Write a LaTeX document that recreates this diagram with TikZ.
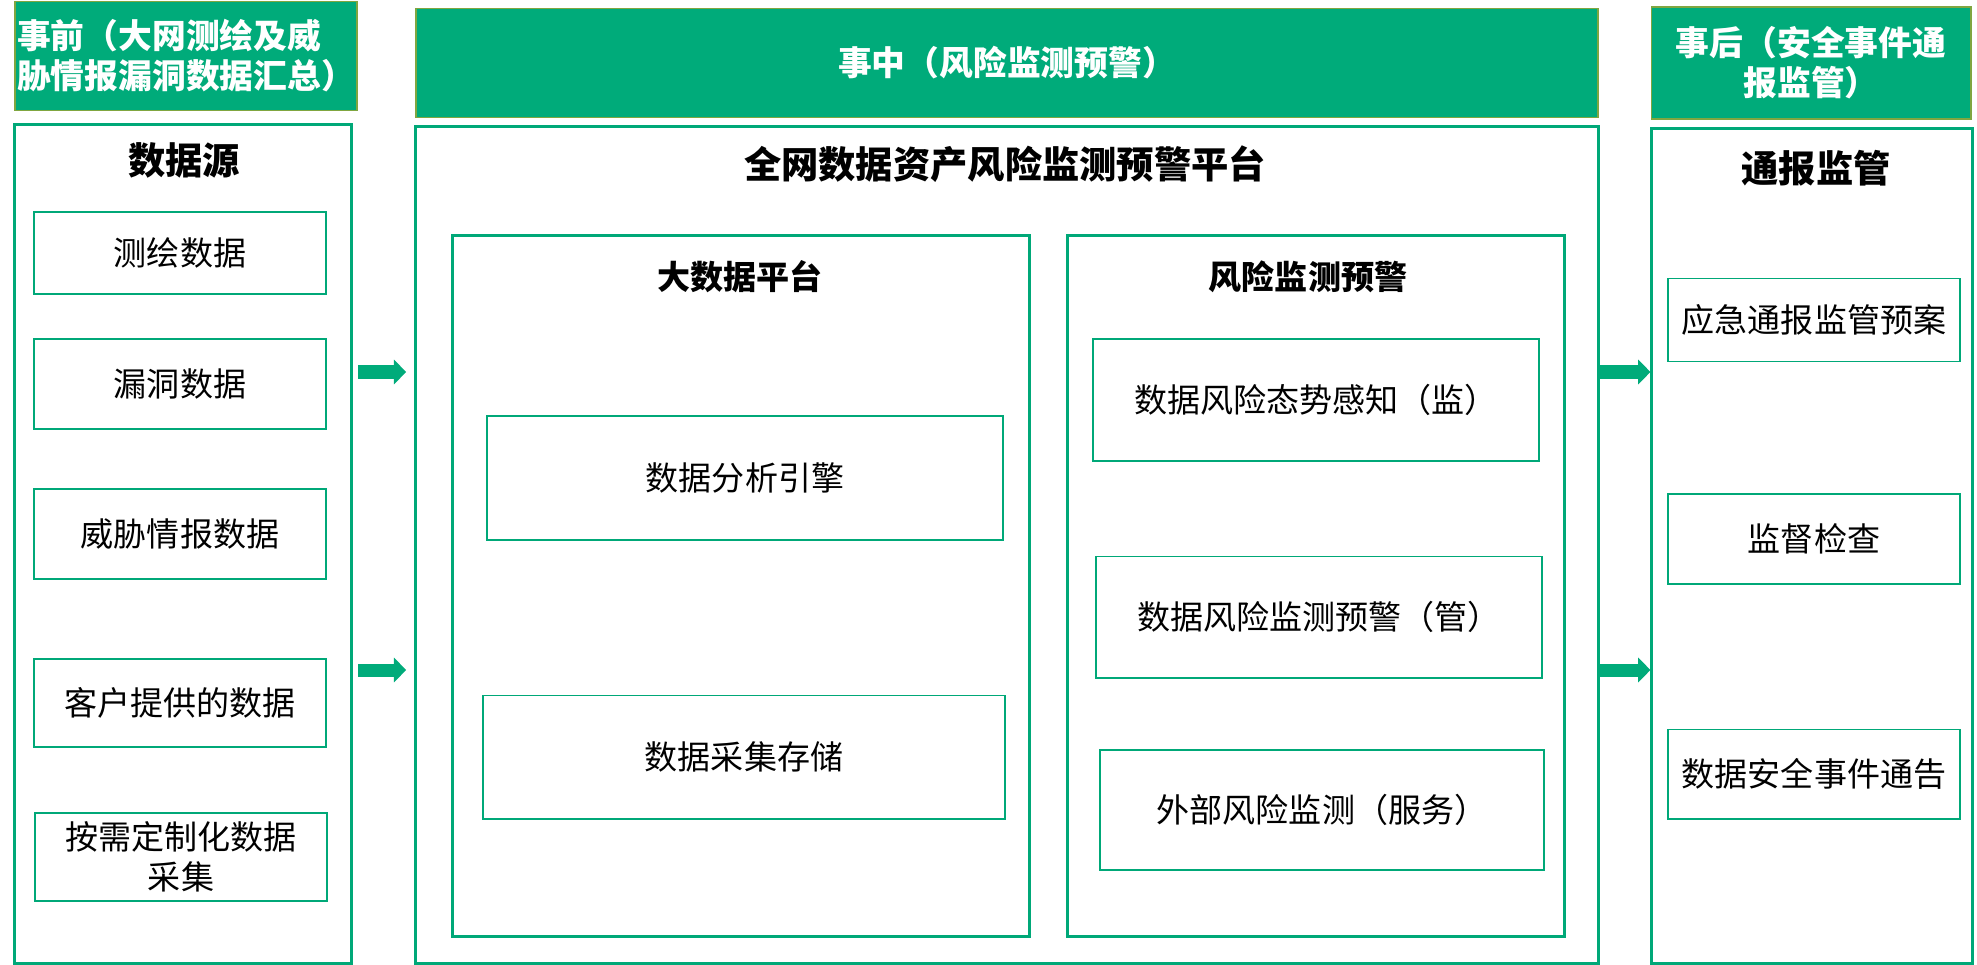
\documentclass[tikz,border=0pt]{standalone}
\usepackage{fontspec}
\setmainfont{Noto Sans CJK SC}
\usetikzlibrary{arrows.meta, positioning}

\definecolor{bargreen}{RGB}{0,171,122}
\definecolor{linegreen}{RGB}{0,168,120}
\definecolor{barolive}{RGB}{128,166,64}

\tikzset{
  phasebar/.style={draw=barolive, line width=0.5pt, fill=bargreen, text=white,
    font=\fontsize{9.6}{11.4}\selectfont\bfseries, inner sep=0pt},
  stagebox/.style={draw=linegreen, line width=0.85pt, inner sep=0pt},
  itembox/.style={draw=linegreen, line width=0.55pt, inner sep=0pt,
    font=\fontsize{9.4}{11.4}\selectfont, align=center},
  headtext/.style={font=\fontsize{10.6}{12}\selectfont\bfseries},
  subtext/.style={font=\fontsize{9.4}{11}\selectfont\bfseries},
  flowarrow/.style={draw=bargreen, line width=3.7pt,
    -{Triangle[length=3.5pt, width=7.1pt, line width=0pt]}},
}

\begin{document}
\begin{tikzpicture}[x=0.01cm, y=-0.01cm]
    \useasboundingbox (0,0) rectangle (1977,964);

    % phase bars
    \node [phasebar, minimum width=3.42cm, minimum height=1.09cm, align=left] (pre) at (186,56)
        {事前（大网测绘及威\\胁情报漏洞数据汇总）};
    \node [phasebar, minimum width=11.81cm, minimum height=1.09cm] (mid) at (1007,63)
        {事中（风险监测预警）};
    \node [phasebar, minimum width=3.19cm, minimum height=1.12cm, align=center] (post) at (1811,63)
        {事后（安全事件通\\报监管）};

    % data sources
    \node [stagebox, minimum width=3.37cm, minimum height=8.39cm] (srcbox) at (183,544) {};
    \node [headtext] (srctitle) at (184,160) {数据源};
    \node [itembox, minimum width=2.91cm, minimum height=0.82cm] (survey) at (180,253) {测绘数据};
    \node [itembox, minimum width=2.91cm, minimum height=0.90cm] (vuln)   at (180,384) {漏洞数据};
    \node [itembox, minimum width=2.91cm, minimum height=0.90cm] (threat) at (180,534) {威胁情报数据};
    \node [itembox, minimum width=2.91cm, minimum height=0.88cm] (client) at (180,703) {客户提供的数据};
    \node [itembox, minimum width=2.91cm, minimum height=0.88cm] (custom) at (181,857) {按需定制化数据\\采集};

    % platform
    \node [stagebox, minimum width=11.82cm, minimum height=8.36cm] (platform) at (1007,545) {};
    \node [headtext] (plattitle) at (1005,164) {全网数据资产风险监测预警平台};

    \node [stagebox, minimum width=5.76cm, minimum height=7.00cm] (bigdata) at (741,586) {};
    \node [subtext] (bigtitle) at (740,277) {大数据平台};
    \node [itembox, minimum width=5.15cm, minimum height=1.24cm] (engine) at (745,478) {数据分析引擎};
    \node [itembox, minimum width=5.21cm, minimum height=1.23cm] (store)  at (744,757) {数据采集存储};

    \node [stagebox, minimum width=4.96cm, minimum height=7.00cm] (risk) at (1316,586) {};
    \node [subtext] (risktitle) at (1308,277) {风险监测预警};
    \node [itembox, minimum width=4.45cm, minimum height=1.21cm] (sense)  at (1316,400) {数据风险态势感知（监）};
    \node [itembox, minimum width=4.45cm, minimum height=1.21cm] (warn)   at (1319,617) {数据风险监测预警（管）};
    \node [itembox, minimum width=4.43cm, minimum height=1.20cm] (extern) at (1322,810) {外部风险监测（服务）};

    % notification
    \node [stagebox, minimum width=3.20cm, minimum height=8.35cm] (notice) at (1812,546) {};
    \node [headtext] (noticetitle) at (1816,168) {通报监管};
    \node [itembox, minimum width=2.91cm, minimum height=0.83cm] (plan)   at (1814,320) {应急通报监管预案};
    \node [itembox, minimum width=2.91cm, minimum height=0.90cm] (audit)  at (1814,539) {监督检查};
    \node [itembox, minimum width=2.91cm, minimum height=0.89cm] (bullet) at (1814,774) {数据安全事件通告};

    % Now draw the arrows:
    \coordinate (rowA) at (0,372);
    \coordinate (rowB) at (0,670);
    \draw [flowarrow, shorten <=0.05cm, shorten >=0.08cm] (srcbox.east |- rowA) -- (platform.west |- rowA);
    \draw [flowarrow, shorten <=0.05cm, shorten >=0.08cm] (srcbox.east |- rowB) -- (platform.west |- rowB);
    \draw [flowarrow] (platform.east |- rowA) -- (notice.west |- rowA);
    \draw [flowarrow] (platform.east |- rowB) -- (notice.west |- rowB);
\end{tikzpicture}
\end{document}
